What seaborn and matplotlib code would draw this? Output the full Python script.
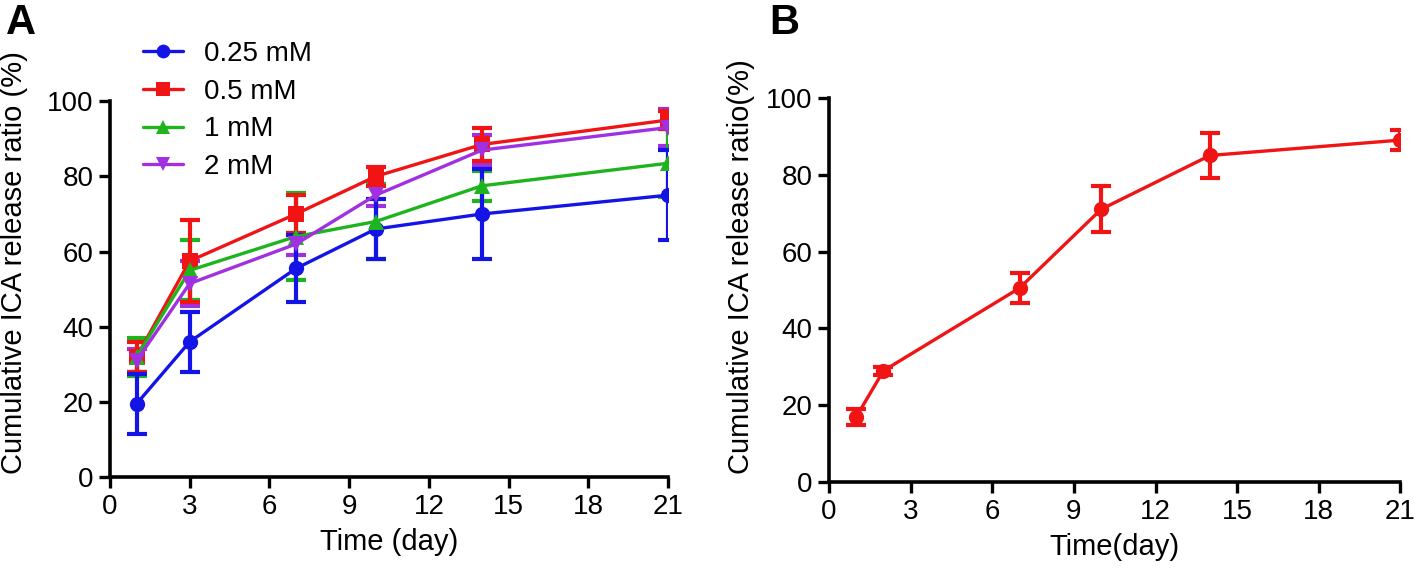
import matplotlib
matplotlib.use("Agg")
import matplotlib.pyplot as plt
import seaborn as sns
import pandas as pd

sns.set_theme(style="ticks")
plt.rcParams['font.family'] = ['Liberation Sans', 'DejaVu Sans']
plt.rcParams['text.color'] = 'black'
plt.rcParams['axes.labelcolor'] = 'black'

# Panel A data (mean, sd)
days_a = [1, 3, 7, 10, 14, 21]
groups = ['0.25 mM', '0.5 mM', '1 mM', '2 mM']
mean_025 = [19.5, 36, 55.5, 66, 70, 75]
sd_025 = [8, 8, 9, 8, 12, 12]
mean_05 = [32, 57.5, 70, 80, 88.5, 95]
sd_05 = [4, 11, 5, 2.5, 4.5, 2.5]
mean_1 = [32, 55, 64, 68, 77.5, 83.5]
sd_1 = [5, 8, 11.5, 10, 4, 9]
mean_2 = [31, 51.5, 62, 75, 87, 93]
sd_2 = [3, 6, 3, 3, 4, 5]

# Panel B data
days_b = [1, 2, 7, 10, 14, 21]
mean_b = [17, 29, 50.5, 71, 85, 89]
sd_b = [2, 1, 4, 6, 5.8, 2.5]

colors = {'0.25 mM': '#1414E6', '0.5 mM': '#F01414', '1 mM': '#1EB41E', '2 mM': '#A030E0'}
markers = {'0.25 mM': 'o', '0.5 mM': 's', '1 mM': '^', '2 mM': 'v'}

means = [mean_025, mean_05, mean_1, mean_2]
sds = [sd_025, sd_05, sd_1, sd_2]
df_a = pd.concat([
    pd.DataFrame({'day': days_a, 'release': m, 'sd': s, 'group': g})
    for g, m, s in zip(groups, means, sds)
])
df_b = pd.DataFrame({'day': days_b, 'release': mean_b, 'sd': sd_b})

fig = plt.figure(figsize=(14.16, 5.72), dpi=100)
ax1 = fig.add_axes([0.0777, 0.166, 0.394, 0.657])
ax2 = fig.add_axes([0.5855, 0.157, 0.4035, 0.672])

lw = 2.4
# error bars first, then lines on top
for g in ['2 mM', '1 mM', '0.5 mM', '0.25 mM']:
    sub = df_a[df_a['group'] == g]
    ax1.errorbar(sub['day'], sub['release'], yerr=sub['sd'], fmt='none',
                 ecolor=colors[g], elinewidth=3, capsize=7, capthick=3, zorder=2)

sns.lineplot(data=df_a, x='day', y='release', hue='group', style='group',
             hue_order=groups, style_order=groups, palette=colors,
             markers=markers, dashes=False, markersize=11, linewidth=lw,
             markeredgewidth=0, ax=ax1, zorder=3)

ax2.errorbar(df_b['day'], df_b['release'], yerr=df_b['sd'], fmt='none',
             ecolor='#F01414', elinewidth=3, capsize=7, capthick=3, zorder=2)
sns.lineplot(data=df_b, x='day', y='release', color='#F01414', marker='o',
             markersize=11, linewidth=lw, markeredgewidth=0, ax=ax2, zorder=3)

for ax in (ax1, ax2):
    ax.set_xlim(0, 21)
    ax.set_ylim(0, 100)
    ax.set_xticks(range(0, 22, 3))
    ax.set_yticks(range(0, 101, 20))
    for side in ('top', 'right'):
        ax.spines[side].set_visible(False)
    for side in ('left', 'bottom'):
        ax.spines[side].set_linewidth(2.6)
        ax.spines[side].set_color('black')
        ax.spines[side].set_clip_on(False)
    ax.tick_params(axis='both', direction='out', length=8, width=2.4,
                   labelsize=20, colors='black', labelcolor='black', pad=4)
    ax.set_facecolor('white')

ax1.set_xlabel('Time (day)', fontsize=21, labelpad=6)
ax1.set_ylabel('Cumulative ICA release ratio (%)', fontsize=21)
ax1.yaxis.set_label_coords(-0.147, 0.57)
ax2.set_xlabel('Time(day)', fontsize=21, labelpad=6)
ax2.set_ylabel('Cumulative ICA release ratio(%)', fontsize=21)
ax2.yaxis.set_label_coords(-0.13, 0.56)

leg = ax1.legend(loc='upper left', bbox_to_anchor=(0.039, 1.19), frameon=False,
                 fontsize=20, handlelength=1.45, handletextpad=0.75,
                 labelspacing=0.42, borderaxespad=0, markerscale=0.9)
for h in leg.legend_handles:
    h.set_linewidth(lw)

fig.text(0.004, 0.94, 'A', fontsize=30, fontweight='bold', color='black')
fig.text(0.543, 0.94, 'B', fontsize=30, fontweight='bold', color='black')

fig.savefig('out.png', dpi=100, facecolor='white')
